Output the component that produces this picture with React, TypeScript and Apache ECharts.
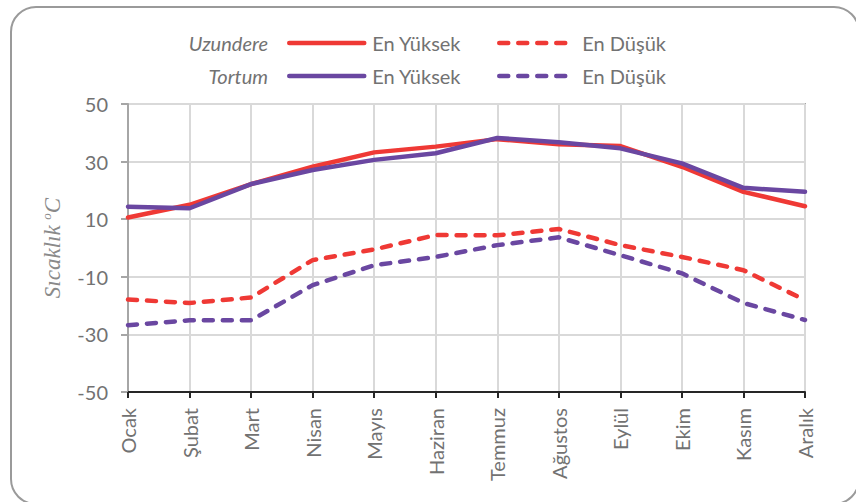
import React, { useEffect, useRef } from "react";
import * as echarts from "echarts";

const months = ["Ocak", "Şubat", "Mart", "Nisan", "Mayıs", "Haziran", "Temmuz", "Ağustos", "Eylül", "Ekim", "Kasım", "Aralık"];
const uzundereMax = [10.6, 15.0, 22.2, 28.2, 33.2, 35.2, 37.8, 36.0, 35.4, 28.2, 19.5, 14.5];
const uzundereMin = [-17.9, -19.1, -17.2, -4.2, -0.5, 4.5, 4.4, 6.6, 1.0, -3.1, -7.7, -18.1];
const tortumMax = [14.3, 13.8, 22.2, 27.1, 30.6, 32.9, 38.2, 36.7, 34.6, 29.4, 20.9, 19.5];
const tortumMin = [-26.8, -25.1, -25.1, -12.9, -6.0, -3.1, 1.0, 3.7, -2.5, -8.8, -19.1, -25.0];
const stations = ["Uzundere", "Tortum"];
const kinds = ["En Yüksek", "En Düşük"];

const RED = "#EF3935";
const PURPLE = "#6A47A1";
const TEXT = "#727272";
const FONT = "Lato, 'Noto Sans', sans-serif";

export default function App() {
  const ref = useRef<HTMLDivElement>(null);
  useEffect(() => {
    if (!ref.current) return;
    const chart = echarts.init(ref.current, null, { renderer: "svg" });
    const mk = (name: string, data: number[], color: string, dashed: boolean) => ({
      name,
      type: "line",
      data,
      symbol: "none",
      lineStyle: {
        color,
        width: 4.5,
        type: dashed ? [9, 10] : "solid",
        cap: "round",
        join: "round",
      },
      itemStyle: { color },
    });
    const names = [
      `${stations[0]} ${kinds[0]}`,
      `${stations[0]} ${kinds[1]}`,
      `${stations[1]} ${kinds[0]}`,
      `${stations[1]} ${kinds[1]}`,
    ];
    const legendPos = [
      { left: 287, top: 33 },
      { left: 497, top: 33 },
      { left: 287, top: 66 },
      { left: 497, top: 66 },
    ];
    const option: any = {
      animation: false,
      backgroundColor: "#ffffff",
      textStyle: { fontFamily: FONT },
      graphic: [
        {
          type: "rect",
          shape: { x: 11, y: 7, width: 848, height: 497, r: 25 },
          style: { fill: "none", stroke: "#9a9a9a", lineWidth: 2 },
          silent: true,
        },
        {
          type: "text",
          x: 268,
          y: 43,
          style: {
            text: stations[0],
            fontFamily: FONT,
            fontStyle: "italic",
            fontSize: 20,
            fill: TEXT,
            textAlign: "right",
            textVerticalAlign: "middle",
          },
        },
        {
          type: "text",
          x: 268,
          y: 76,
          style: {
            text: stations[1],
            fontFamily: FONT,
            fontStyle: "italic",
            fontSize: 20,
            fill: TEXT,
            textAlign: "right",
            textVerticalAlign: "middle",
          },
        },
      ],
      legend: names.map((n, i) => ({
        data: [n],
        left: legendPos[i].left,
        top: legendPos[i].top,
        padding: 0,
        itemWidth: 75,
        itemHeight: 20,
        selectedMode: false,
        itemStyle: { opacity: 0 },
        lineStyle: { width: 4.5, cap: "round" },
        formatter: (name: string) => name.split(" ").slice(1).join(" "),
        textStyle: { color: TEXT, fontSize: 20, fontFamily: FONT, padding: [0, 0, 0, 3] },
      })),
      grid: {
        left: 128,
        right: 51,
        top: 104,
        bottom: 110,
        show: true,
        borderColor: "#a6a6a6",
        borderWidth: 2,
      },
      xAxis: {
        type: "category",
        data: months,
        boundaryGap: false,
        axisLine: { onZero: false, lineStyle: { color: "#262626", width: 2 } },
        axisTick: { show: true, length: 6, lineStyle: { color: "#262626", width: 2 } },
        axisLabel: { rotate: 90, margin: 16, fontSize: 20, color: TEXT, fontFamily: FONT, interval: 0 },
        splitLine: { show: true, lineStyle: { color: "#d9d9d9", width: 2 } },
      },
      yAxis: {
        type: "value",
        min: -50,
        max: 50,
        interval: 20,
        name: "{n|Sıcaklık }{s|o}{n|C}",
        nameLocation: "middle",
        nameGap: 64,
        nameTextStyle: {
          rich: {
            n: { fontFamily: "'Liberation Serif', serif", fontStyle: "italic", fontSize: 23, color: "#8a8a8a", lineHeight: 24 },
            s: { fontFamily: "'Liberation Serif', serif", fontStyle: "italic", fontSize: 13, color: "#8a8a8a", lineHeight: 24, verticalAlign: "top" },
          },
        },
        axisLine: { show: true, lineStyle: { color: "#a6a6a6", width: 2 } },
        axisTick: { show: true, length: 7, lineStyle: { color: "#a6a6a6", width: 2 } },
        axisLabel: { margin: 20, fontSize: 20, color: TEXT, fontFamily: FONT },
        splitLine: { show: true, lineStyle: { color: "#d9d9d9", width: 2 } },
      },
      series: [
        mk(names[0], uzundereMax, RED, false),
        mk(names[1], uzundereMin, RED, true),
        mk(names[2], tortumMax, PURPLE, false),
        mk(names[3], tortumMin, PURPLE, true),
      ],
    };
    chart.setOption(option);
    return () => chart.dispose();
  }, []);
  return <div ref={ref} style={{ width: 856, height: 502, position: "absolute", left: 0, top: 0 }} />;
}
